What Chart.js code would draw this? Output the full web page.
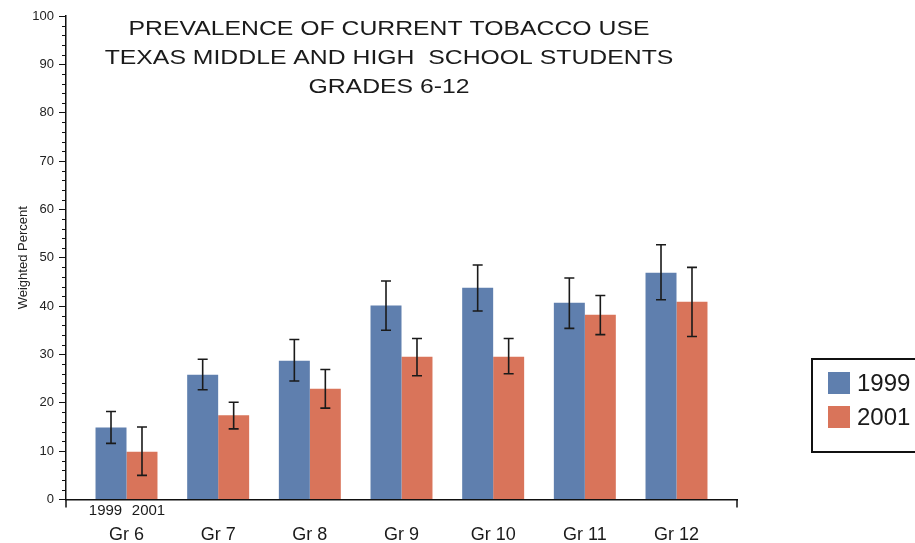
<!DOCTYPE html>
<html>
<head>
<meta charset="utf-8">
<script src="https://cdn.jsdelivr.net/npm/chart.js@4.4.1/dist/chart.umd.min.js"></script>
<style>
  body { margin: 0; background: #fff; }
  #wrap { width: 915px; height: 543px; position: relative; }
</style>
</head>
<body>
<div id="wrap"><canvas id="myChart"></canvas></div>
<script>
  const categories = ['Gr 6', 'Gr 7', 'Gr 8', 'Gr 9', 'Gr 10', 'Gr 11', 'Gr 12'];
  const seriesNames = ['1999', '2001'];

  const values1999 = [14.9, 25.8, 28.7, 40.1, 43.8, 40.7, 46.9];
  const low1999    = [11.6, 22.7, 24.5, 35.0, 39.0, 35.4, 41.3];
  const high1999   = [18.2, 29.0, 33.1, 45.2, 48.5, 45.8, 52.7];

  const values2001 = [9.9, 17.4, 22.9, 29.5, 29.5, 38.2, 40.9];
  const low2001    = [5.0, 14.6, 18.9, 25.6, 26.0, 34.1, 33.7];
  const high2001   = [15.0, 20.1, 26.9, 33.3, 33.3, 42.2, 48.0];

  const yTicks = [0, 10, 20, 30, 40, 50, 60, 70, 80, 90, 100];
  const titleLines = [
    'PREVALENCE OF CURRENT TOBACCO USE',
    'TEXAS MIDDLE AND HIGH  SCHOOL STUDENTS',
    'GRADES 6-12'
  ];

  const FONT = '"Liberation Sans", Arial, sans-serif';
  const colors = ['rgb(95, 127, 174)', 'rgb(217, 116, 90)'];

  const toPoints = vals => vals.map((v, i) => ({ x: i, y: v }));

  const data = {
    datasets: [{
      label: seriesNames[0],
      backgroundColor: colors[0],
      data: toPoints(values1999),
      errLow: low1999,
      errHigh: high1999
    }, {
      label: seriesNames[1],
      backgroundColor: colors[1],
      data: toPoints(values2001),
      errLow: low2001,
      errHigh: high2001
    }]
  };

  // error bars, title, minor ticks, legend box, year sub-labels
  const extras = {
    id: 'extras',
    afterDatasetsDraw(chart) {
      const ctx = chart.ctx;
      const y = chart.scales.y;
      ctx.save();
      ctx.strokeStyle = '#1a1a1a';
      ctx.lineWidth = 1.6;
      chart.data.datasets.forEach((ds, i) => {
        chart.getDatasetMeta(i).data.forEach((bar, j) => {
          const top = y.getPixelForValue(ds.errHigh[j]);
          const bot = y.getPixelForValue(ds.errLow[j]);
          ctx.beginPath();
          ctx.moveTo(bar.x, top); ctx.lineTo(bar.x, bot);
          ctx.moveTo(bar.x - 5, top); ctx.lineTo(bar.x + 5, top);
          ctx.moveTo(bar.x - 5, bot); ctx.lineTo(bar.x + 5, bot);
          ctx.stroke();
        });
      });
      ctx.restore();
    },
    afterDraw(chart) {
      const ctx = chart.ctx;
      const { x, y } = chart.scales;
      const area = chart.chartArea;
      ctx.save();

      // minor ticks on the y axis
      ctx.strokeStyle = '#111';
      ctx.lineWidth = 1;
      for (let v = 2; v < 100; v += 2) {
        if (v % 10 === 0) continue;
        const py = Math.round(y.getPixelForValue(v)) + 0.5;
        ctx.beginPath();
        ctx.moveTo(area.left - 4, py); ctx.lineTo(area.left, py);
        ctx.stroke();
      }
      // axis end ticks
      ctx.lineWidth = 1.5;
      ctx.beginPath();
      ctx.moveTo(area.left, area.bottom); ctx.lineTo(area.left, area.bottom + 8);
      ctx.moveTo(area.right, area.bottom); ctx.lineTo(area.right, area.bottom + 8);
      ctx.stroke();

      // title
      ctx.fillStyle = '#1a1a1a';
      ctx.font = '21px ' + FONT;
      ctx.textAlign = 'center';
      ctx.textBaseline = 'alphabetic';
      titleLines.forEach((line, i) => {
        ctx.save();
        ctx.translate(389, 35 + i * 29);
        ctx.scale(1.18, 1);
        ctx.fillText(line, 0, 0);
        ctx.restore();
      });

      // year labels under first group
      ctx.font = '15px ' + FONT;
      const gx = x.getPixelForValue(0);
      ctx.fillText(seriesNames[0], gx - 21, 515);
      ctx.fillText(seriesNames[1], gx + 22, 515);

      // legend
      ctx.strokeStyle = '#111';
      ctx.lineWidth = 2;
      ctx.strokeRect(812, 359, 120, 93);
      ctx.font = '24px ' + FONT;
      ctx.textAlign = 'left';
      ctx.textBaseline = 'middle';
      chart.data.datasets.forEach((ds, i) => {
        const ly = 372 + i * 34;
        ctx.fillStyle = ds.backgroundColor;
        ctx.fillRect(828, ly, 22, 22);
        ctx.fillStyle = '#1a1a1a';
        ctx.fillText(ds.label, 857, ly + 12);
      });
      ctx.restore();
    }
  };

  const config = {
    type: 'bar',
    data: data,
    options: {
      responsive: true,
      maintainAspectRatio: false,
      animation: false,
      layout: { padding: { top: 16, right: 178, left: 0, bottom: 0 } },
      categoryPercentage: 0.676,
      barPercentage: 1.0,
      plugins: {
        legend: { display: false },
        tooltip: { enabled: false }
      },
      scales: {
        x: {
          type: 'linear',
          min: -0.66,
          max: 6.66,
          offset: false,
          grid: { display: false },
          border: { display: true, color: '#111', width: 1.5 },
          afterBuildTicks: s => { s.ticks = categories.map((_, i) => ({ value: i })); },
          afterFit: s => { s.height = 43.5; },
          ticks: {
            autoSkip: false,
            maxRotation: 0,
            padding: 17,
            color: '#1a1a1a',
            font: { family: FONT, size: 18 },
            callback: v => categories[v]
          }
        },
        y: {
          min: 0,
          max: 100,
          afterBuildTicks: s => { s.ticks = yTicks.map(v => ({ value: v })); },
          afterFit: s => { s.width = 66; },
          grid: {
            display: true,
            drawOnChartArea: false,
            drawTicks: true,
            tickLength: 7,
            color: '#111',
            lineWidth: 1
          },
          border: { display: true, color: '#111', width: 1.5 },
          ticks: {
            padding: 5,
            color: '#222',
            font: { family: FONT, size: 13 }
          },
          title: {
            display: true,
            text: 'Weighted Percent',
            color: '#222',
            font: { family: FONT, size: 13 },
            padding: { top: 16, bottom: 0 }
          }
        }
      }
    },
    plugins: [extras]
  };

  const myChart = new Chart(document.getElementById('myChart'), config);
</script>
</body>
</html>
